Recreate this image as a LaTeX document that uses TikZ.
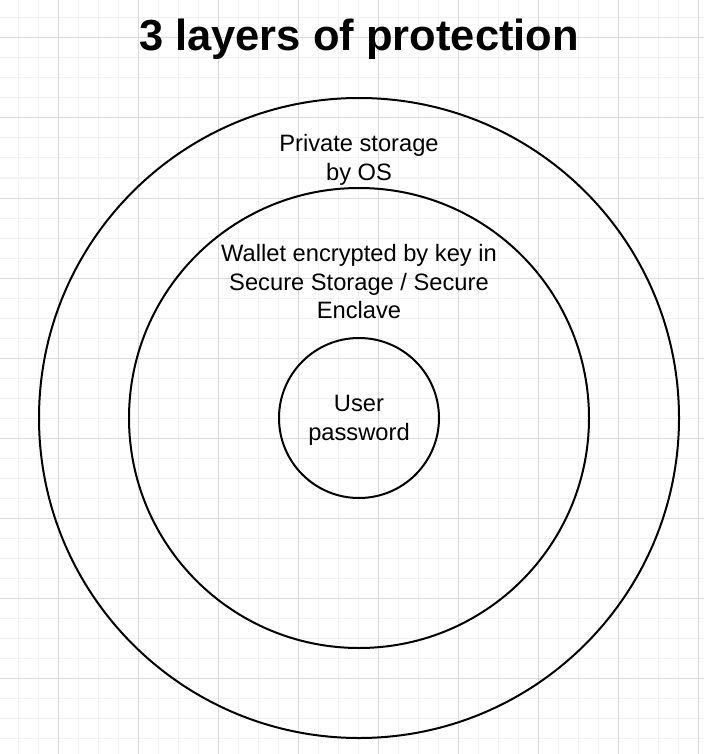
\documentclass[tikz,border=0pt]{standalone}
\usepackage{fontspec}
\setmainfont{Liberation Sans}
\begin{document}
\begin{tikzpicture}[x=1pt,y=-1pt,
  minorgrid/.style={draw=black!5,line width=1pt},
  majorgrid/.style={draw=black!14,line width=1pt},
  ring/.style={circle,draw=black,line width=2pt,inner sep=0pt},
  lbl/.style={align=center,inner sep=0pt,font=\fontsize{23.7}{28.4}\selectfont}]
\useasboundingbox (0,0) rectangle (704,754);
\fill[white] (0,0) rectangle (704,754);
% grid
\foreach \x in {18,38,...,698} \draw[minorgrid] (\x,0) -- (\x,754);
\foreach \y in {18,38,...,738} \draw[minorgrid] (0,\y) -- (704,\y);
\foreach \x in {58,138,...,698} \draw[majorgrid] (\x,0) -- (\x,754);
\foreach \y in {38,118,...,678} \draw[majorgrid] (0,\y) -- (704,\y);
% circles
\node[ring,minimum size=640pt] (outer) at (359,418) {};
\node[ring,minimum size=460pt] (middle) at (359,418) {};
\node[ring,minimum size=160pt] (inner) at (359,418) {};
% texts
\node[anchor=base,inner sep=0pt,font=\bfseries\fontsize{43.5}{52}\selectfont] (title) at (359,50.7) {3 layers of protection};
\node[lbl,anchor=base] (os) at (359,180.2) {Private storage\\by OS};
\node[lbl,anchor=base] (wallet) at (359,318.6) {Wallet encrypted by key in\\Secure Storage / Secure\\Enclave};
\node[lbl,anchor=base] (pw) at (359,440) {User\\password};
\end{tikzpicture}
\end{document}
